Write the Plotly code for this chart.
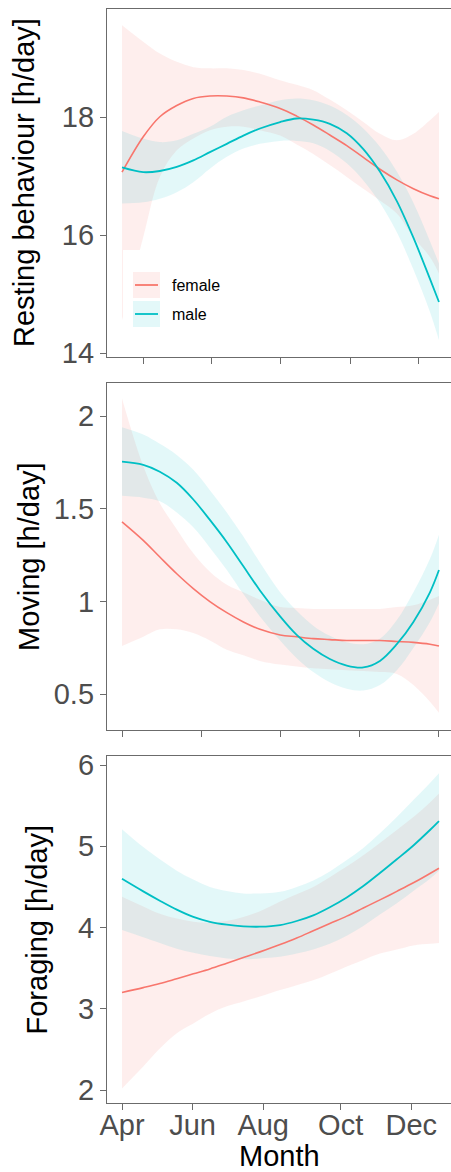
import plotly.graph_objects as go

W, H = 451, 1172

# ---------------- data ----------------
months = [4.00, 4.59, 5.05, 5.52, 5.98, 6.44, 6.91, 7.37, 7.83, 8.39,
          8.85, 9.31, 9.77, 10.24, 10.70, 11.16, 11.63, 12.09, 12.55, 12.80]

rest_f = [17.07, 17.67, 18.01, 18.20, 18.32, 18.36, 18.36, 18.33, 18.26, 18.15,
          18.02, 17.87, 17.70, 17.52, 17.32, 17.12, 16.94, 16.79, 16.67, 16.62]
rest_f_lo = [14.56, 15.97, 16.99, 17.44, 17.64, 17.78, 17.84, 17.84, 17.78, 17.69,
             17.54, 17.38, 17.19, 16.99, 16.79, 16.59, 16.37, 15.97, 15.63, 15.35]
rest_f_hi = [19.56, 19.28, 19.08, 18.94, 18.85, 18.83, 18.83, 18.80, 18.74, 18.63,
             18.55, 18.46, 18.30, 18.12, 17.92, 17.72, 17.61, 17.72, 17.95, 18.09]
rest_m = [17.15, 17.07, 17.09, 17.16, 17.27, 17.41, 17.55, 17.69, 17.81, 17.92,
          17.98, 17.96, 17.89, 17.73, 17.46, 17.08, 16.58, 15.96, 15.26, 14.87]
rest_m_lo = [16.54, 16.56, 16.62, 16.73, 16.90, 17.13, 17.33, 17.47, 17.55, 17.60,
             17.60, 17.56, 17.43, 17.22, 16.93, 16.55, 16.05, 15.42, 14.70, 14.22]
rest_m_hi = [17.77, 17.64, 17.58, 17.61, 17.72, 17.84, 18.01, 18.12, 18.20, 18.29,
             18.32, 18.29, 18.20, 18.04, 17.81, 17.50, 17.08, 16.55, 15.90, 15.52]

move_f = [1.43, 1.33, 1.24, 1.15, 1.07, 1.00, 0.94, 0.89, 0.85, 0.82,
          0.81, 0.80, 0.795, 0.79, 0.79, 0.79, 0.785, 0.78, 0.77, 0.76]
move_f_lo = [0.76, 0.81, 0.85, 0.85, 0.83, 0.79, 0.74, 0.71, 0.68, 0.66,
             0.65, 0.64, 0.635, 0.63, 0.625, 0.62, 0.61, 0.55, 0.46, 0.40]
move_f_hi = [2.095, 1.73, 1.53, 1.39, 1.26, 1.16, 1.09, 1.05, 1.01, 0.97,
             0.965, 0.96, 0.96, 0.96, 0.96, 0.96, 0.97, 0.98, 1.01, 1.03]
move_m = [1.754, 1.737, 1.70, 1.64, 1.55, 1.44, 1.32, 1.19, 1.06, 0.92,
          0.82, 0.745, 0.69, 0.655, 0.645, 0.68, 0.77, 0.89, 1.05, 1.17]
move_m_lo = [1.57, 1.56, 1.54, 1.48, 1.40, 1.29, 1.17, 1.04, 0.92, 0.79,
             0.695, 0.62, 0.565, 0.53, 0.52, 0.55, 0.63, 0.75, 0.89, 0.99]
move_m_hi = [1.94, 1.90, 1.85, 1.79, 1.71, 1.60, 1.48, 1.35, 1.21, 1.05,
             0.95, 0.87, 0.815, 0.78, 0.77, 0.80, 0.90, 1.05, 1.23, 1.36]

for_f = [3.20, 3.26, 3.31, 3.37, 3.43, 3.49, 3.56, 3.63, 3.70, 3.79,
         3.87, 3.96, 4.05, 4.14, 4.24, 4.34, 4.445, 4.55, 4.665, 4.73]
for_f_lo = [2.02, 2.29, 2.51, 2.70, 2.82, 2.94, 3.03, 3.09, 3.15, 3.23,
            3.29, 3.35, 3.43, 3.52, 3.60, 3.68, 3.73, 3.78, 3.80, 3.81]
for_f_hi = [4.38, 4.26, 4.17, 4.11, 4.07, 4.06, 4.08, 4.13, 4.20, 4.32,
            4.41, 4.50, 4.62, 4.75, 4.89, 5.04, 5.20, 5.36, 5.54, 5.65]
for_m = [4.60, 4.445, 4.33, 4.22, 4.13, 4.07, 4.035, 4.015, 4.01, 4.03,
         4.08, 4.15, 4.25, 4.37, 4.51, 4.67, 4.84, 5.01, 5.20, 5.31]
for_m_lo = [3.97, 3.88, 3.81, 3.74, 3.69, 3.65, 3.62, 3.61, 3.62, 3.64,
            3.68, 3.73, 3.80, 3.90, 4.02, 4.16, 4.30, 4.45, 4.60, 4.70]
for_m_hi = [5.21, 4.99, 4.84, 4.70, 4.59, 4.50, 4.45, 4.42, 4.42, 4.44,
            4.50, 4.58, 4.69, 4.83, 4.98, 5.16, 5.36, 5.57, 5.78, 5.90]

ticks_p1 = [4.59, 6.49, 8.41, 10.33, 12.22]
ticks_p2 = [4.0, 6.2, 8.4, 10.6, 12.8]
ticks_p3 = [4.0, 5.96, 7.92, 10.07, 12.03]
month_labels = ["Apr", "Jun", "Aug", "Oct", "Dec"]

y_titles = ["Resting behaviour [h/day]", "Moving [h/day]", "Foraging [h/day]"]
y_ticks = [[14, 16, 18], [0.5, 1, 1.5, 2], [2, 3, 4, 5, 6]]
y_ticktext = [["14", "16", "18"], ["0.5", "1", "1.5", "2"], ["2", "3", "4", "5", "6"]]
y_ranges = [[13.937, 19.836], [0.3076, 2.178], [1.84, 6.111]]
sex_labels = ["female", "male"]

# ---------------- styling ----------------
RED = "#F8766D"
TEAL = "#00BFC4"
RED_FILL = "rgba(248,118,109,0.12)"
TEAL_FILL = "rgba(0,191,196,0.11)"
AXC = "#6b6b6b"
TXT = "#4D4D4D"
FONT = "Liberation Sans, Arial, sans-serif"

def px_x(p):
    return p / W

def px_y(p):
    return 1 - p / H

# panel pixel boxes (top, bottom)
panels = [(9, 357), (383, 730), (756, 1103)]
x_left, x_right = 107, 451
x_range = [3.5836, 13.134]

fig = go.Figure()

panel_data = [
    (rest_f, rest_f_lo, rest_f_hi, rest_m, rest_m_lo, rest_m_hi),
    (move_f, move_f_lo, move_f_hi, move_m, move_m_lo, move_m_hi),
    (for_f, for_f_lo, for_f_hi, for_m, for_m_lo, for_m_hi),
]

SM = 1.0
for i, (ff, flo, fhi, mm, mlo, mhi) in enumerate(panel_data):
    xa = "x" if i == 0 else f"x{i+1}"
    ya = "y" if i == 0 else f"y{i+1}"
    for lo, hi, fc in [(flo, fhi, RED_FILL), (mlo, mhi, TEAL_FILL)]:
        fig.add_trace(go.Scatter(x=months, y=lo, mode="lines",
                                 line=dict(width=0, shape="spline", smoothing=SM),
                                 showlegend=False, hoverinfo="skip", xaxis=xa, yaxis=ya))
        fig.add_trace(go.Scatter(x=months, y=hi, mode="lines",
                                 line=dict(width=0, shape="spline", smoothing=SM),
                                 fill="tonexty", fillcolor=fc, showlegend=False, hoverinfo="skip",
                                 xaxis=xa, yaxis=ya))
    fig.add_trace(go.Scatter(x=months, y=ff, mode="lines",
                             line=dict(color=RED, width=1.6, shape="spline", smoothing=SM),
                             name=sex_labels[0], showlegend=False, xaxis=xa, yaxis=ya))
    fig.add_trace(go.Scatter(x=months, y=mm, mode="lines",
                             line=dict(color=TEAL, width=1.8, shape="spline", smoothing=SM),
                             name=sex_labels[1], showlegend=False, xaxis=xa, yaxis=ya))

tick_sets = [ticks_p1, ticks_p2, ticks_p3]
layout = dict(
    width=W, height=H, margin=dict(l=0, r=0, t=0, b=0, autoexpand=False),
    paper_bgcolor="white", plot_bgcolor="white",
    font=dict(family=FONT, color=TXT),
    showlegend=False,
)
for i in range(3):
    top, bot = panels[i]
    xk = "xaxis" if i == 0 else f"xaxis{i+1}"
    yk = "yaxis" if i == 0 else f"yaxis{i+1}"
    xa = "x" if i == 0 else f"x{i+1}"
    ya = "y" if i == 0 else f"y{i+1}"
    layout[xk] = dict(
        domain=[px_x(x_left), px_x(x_right)], anchor=ya, range=x_range, automargin=False,
        tickvals=tick_sets[i], ticktext=month_labels if i == 2 else None,
        showticklabels=(i == 2), ticks="outside", ticklen=6, tickwidth=1.3, tickcolor=AXC,
        ticklabelstandoff=-10,
        showline=True, linecolor=AXC, linewidth=1.3, mirror=True, showgrid=False, zeroline=False,
        tickfont=dict(size=29, color=TXT, family=FONT),
    )
    layout[yk] = dict(
        domain=[px_y(bot), px_y(top)], anchor=xa, range=y_ranges[i], automargin=False,
        tickvals=y_ticks[i], ticktext=y_ticktext[i],
        ticks="outside", ticklen=6, tickwidth=1.3, tickcolor=AXC,
        showline=True, linecolor=AXC, linewidth=1.3, showgrid=False, zeroline=False,
        tickfont=dict(size=29, color=TXT, family=FONT),
    )

fig.update_layout(**layout)

annotations = []
title_x = [24, 28.5, 36]
for i in range(3):
    top, bot = panels[i]
    annotations.append(dict(
        text=y_titles[i], xref="paper", yref="paper",
        x=px_x(title_x[i]), y=px_y((top + bot) / 2), xanchor="center", yanchor="middle",
        textangle=-90, showarrow=False, font=dict(size=29, color="black", family=FONT),
    ))
annotations.append(dict(
    text="Month", xref="paper", yref="paper", x=px_x((x_left + x_right) / 2), y=px_y(1156),
    xanchor="center", yanchor="middle", showarrow=False, font=dict(size=29, color="black", family=FONT),
))
# legend labels
annotations.append(dict(text=sex_labels[0], xref="paper", yref="paper", x=px_x(170), y=px_y(285),
                        xanchor="left", yanchor="middle", showarrow=False,
                        font=dict(size=16, color="black", family=FONT)))
annotations.append(dict(text=sex_labels[1], xref="paper", yref="paper", x=px_x(170), y=px_y(314),
                        xanchor="left", yanchor="middle", showarrow=False,
                        font=dict(size=16, color="black", family=FONT)))

shapes = [
    # legend background
    dict(type="rect", xref="paper", yref="paper", x0=px_x(123), x1=px_x(225), y0=px_y(333), y1=px_y(250),
         fillcolor="white", line=dict(width=0), layer="above"),
    dict(type="rect", xref="paper", yref="paper", x0=px_x(133), x1=px_x(160), y0=px_y(298), y1=px_y(272),
         fillcolor=RED_FILL, line=dict(width=0), layer="above"),
    dict(type="rect", xref="paper", yref="paper", x0=px_x(133), x1=px_x(160), y0=px_y(327), y1=px_y(301),
         fillcolor=TEAL_FILL, line=dict(width=0), layer="above"),
    dict(type="line", xref="paper", yref="paper", x0=px_x(135), x1=px_x(158), y0=px_y(285), y1=px_y(285),
         line=dict(color=RED, width=1.8), layer="above"),
    dict(type="line", xref="paper", yref="paper", x0=px_x(135), x1=px_x(158), y0=px_y(314), y1=px_y(314),
         line=dict(color=TEAL, width=1.8), layer="above"),
]

fig.update_layout(annotations=annotations, shapes=shapes)
fig.write_html("out.html")
